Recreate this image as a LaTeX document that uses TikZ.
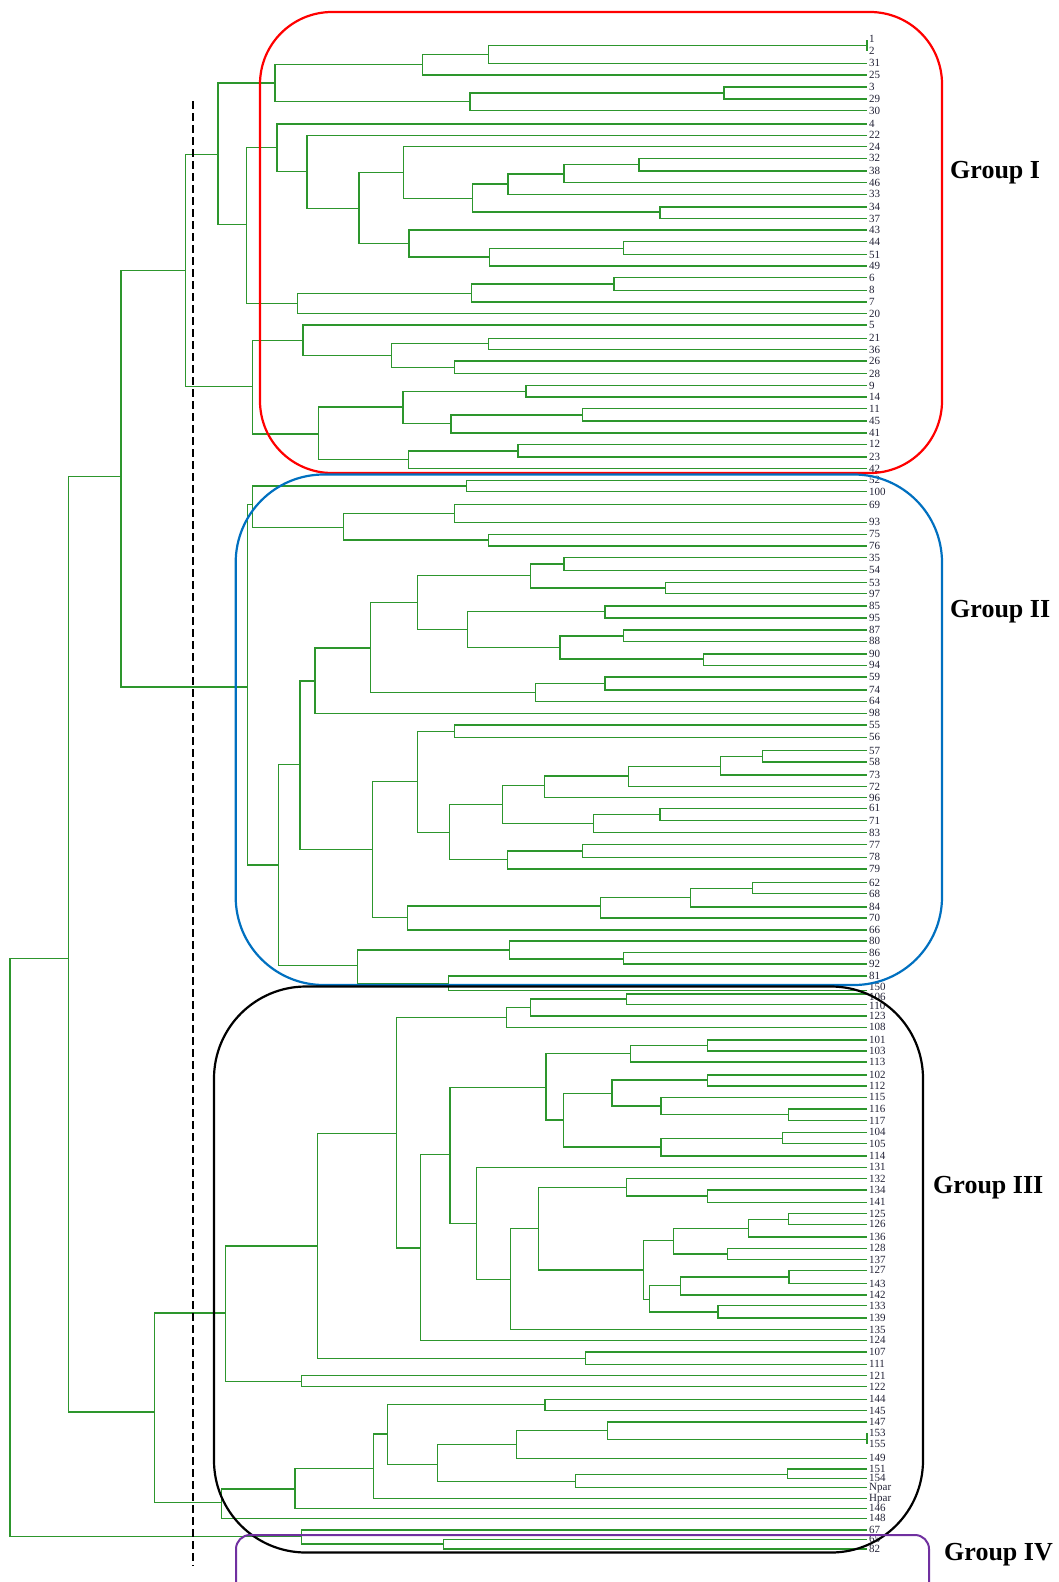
\documentclass[tikz,border=0pt]{standalone}
\usepackage{fontspec}
\setmainfont{Liberation Serif}
\definecolor{treegreen}{RGB}{45,150,45}
\definecolor{labgray}{RGB}{35,35,55}
\definecolor{boxblue}{RGB}{0,112,192}
\definecolor{boxpurple}{RGB}{112,48,160}
\newcommand\br[5]{\draw[tree] (#1,#2) -- (#3,#2) -- (#3,#4) -- (#5,#4);}
\def\E{867}
\begin{document}
\begin{tikzpicture}[x=1pt,y=-1pt,
  tree/.style={treegreen,line width=1.5pt},
  lab/.style={anchor=west,inner sep=0pt,font=\fontsize{11}{11}\selectfont,text=labgray},
  grp/.style={anchor=west,inner sep=0pt,font=\fontsize{26}{26}\selectfont\bfseries},
  gbox/.style={line width=2.2pt}]
\useasboundingbox (0,0) rectangle (1059,1582);
\clip (0,0) rectangle (1059,1582);
\fill[white] (0,0) rectangle (1059,1582);
% ---------- Group I ----------
\br{\E}{40}{867}{51}{\E}
\br{867}{45.7}{488.6}{63.3}{\E}
\br{488.6}{54.5}{422.5}{75}{\E}
\br{\E}{87}{724}{99}{\E}
\br{724}{93}{470}{110.7}{\E}
\br{422.5}{64.7}{275}{101.7}{470}
\br{\E}{158.3}{639}{171}{\E}
\br{639}{164.7}{564}{182.7}{\E}
\br{564}{174}{508}{194.3}{\E}
\br{\E}{207}{660}{218.7}{\E}
\br{508}{184}{472.5}{212}{660}
\br{\E}{146.7}{403.6}{198.3}{472.5}
\br{\E}{241.7}{623.6}{254.5}{\E}
\br{623.6}{248.3}{489.6}{266}{\E}
\br{\E}{230}{409}{257}{489.6}
\br{403.6}{172.7}{359}{243.7}{409}
\br{\E}{135.3}{307}{208.3}{359}
\br{\E}{124}{276.8}{171.3}{307}
\br{\E}{277.7}{614}{290.3}{\E}
\br{614}{284}{471.4}{302}{\E}
\br{471.4}{293.3}{297.5}{313.7}{\E}
\br{276.8}{147.7}{246.4}{303.3}{297.5}
\br{275}{83}{217.9}{224.7}{246.4}
\br{\E}{338.3}{488.6}{349.7}{\E}
\br{\E}{361}{454.6}{373.7}{\E}
\br{488.6}{343.3}{391.4}{367.7}{454.6}
\br{\E}{325}{302.9}{355.7}{391.4}
\br{\E}{385.7}{526}{397}{\E}
\br{\E}{408.7}{582.5}{421}{\E}
\br{582.5}{415}{451}{433}{\E}
\br{526}{391.7}{402.9}{423.7}{451}
\br{\E}{444.3}{518}{457}{\E}
\br{518}{451}{408.6}{468.7}{\E}
\br{402.9}{407}{318.6}{459.7}{408.6}
\br{302.9}{340.7}{252.5}{434}{318.6}
\br{217.9}{154.7}{185.7}{386.7}{252.5}
% ---------- Group II ----------
\br{\E}{480.3}{466.7}{491.7}{\E}
\br{\E}{504.7}{454.7}{522.3}{\E}
\br{\E}{534.3}{488.7}{546}{\E}
\br{454.7}{513.5}{343.3}{540.2}{488.7}
\br{466.7}{486}{252.3}{527.7}{343.3}
\br{\E}{557.7}{564}{570.3}{\E}
\br{\E}{582.7}{665.7}{593.7}{\E}
\br{564}{564}{530.7}{588}{665.7}
\br{\E}{606}{605}{618}{\E}
\br{\E}{630}{623.3}{641.3}{\E}
\br{\E}{654}{703.7}{665.3}{\E}
\br{623.3}{636}{560}{659}{703.7}
\br{605}{611.7}{467.3}{647.7}{560}
\br{530.7}{575.7}{417.3}{629.7}{467.3}
\br{\E}{677}{605}{690}{\E}
\br{605}{683.7}{535.7}{701.3}{\E}
\br{417.3}{602.3}{370.3}{692.3}{535.7}
\br{370.3}{648}{315}{713.3}{\E}
\br{\E}{725}{454.7}{737.3}{\E}
\br{\E}{750.7}{762.7}{762}{\E}
\br{762.7}{756.5}{720.7}{775}{\E}
\br{720.7}{766.7}{628.5}{786.7}{\E}
\br{628.5}{776}{544.3}{797.7}{\E}
\br{\E}{808.3}{660}{820.7}{\E}
\br{660}{814.7}{593.3}{832.7}{\E}
\br{544.3}{785.3}{502.7}{823.3}{593.3}
\br{\E}{844.7}{582.7}{857.3}{\E}
\br{582.7}{851}{507.3}{869}{\E}
\br{502.7}{804.7}{449.7}{859.3}{507.3}
\br{454.7}{731.3}{417.3}{832.3}{449.7}
\br{\E}{882.7}{752.7}{893.7}{\E}
\br{752.7}{888.7}{690.3}{907}{\E}
\br{690.3}{897.7}{600.5}{918}{\E}
\br{600.5}{906}{407.3}{930}{\E}
\br{417.3}{781.3}{372.3}{917.7}{407.3}
\br{315}{681}{300}{849.3}{372.3}
\br{\E}{952.7}{623.7}{964}{\E}
\br{\E}{941}{509.3}{959}{623.7}
\br{\E}{976}{448.7}{990.5}{\E}
\br{509.3}{950}{357.7}{983.5}{448.7}
\br{300}{764.7}{278.7}{965.3}{357.7}
\br{252.3}{504.7}{247.3}{865}{278.7}
\br{185.7}{270.7}{121}{687}{247.3}
% ---------- Group III ----------
\br{\E}{994}{626.7}{1004.3}{\E}
\br{626.7}{999}{530.7}{1016}{\E}
\br{530.7}{1007.5}{506.7}{1027.3}{\E}
\br{\E}{1040}{707.3}{1051}{\E}
\br{707.3}{1045.5}{630.7}{1062}{\E}
\br{\E}{1075}{707.3}{1086}{\E}
\br{\E}{1109}{788.7}{1120.7}{\E}
\br{\E}{1097.3}{661}{1114.3}{788.7}
\br{707.3}{1080}{612}{1106}{661}
\br{\E}{1132.3}{782.7}{1143.7}{\E}
\br{782.7}{1138.3}{661}{1156}{\E}
\br{612}{1093.7}{563.7}{1147}{661}
\br{630.7}{1053.7}{546}{1120}{563.7}
\br{\E}{1190}{707.3}{1202.3}{\E}
\br{\E}{1178.7}{626.7}{1196}{707.3}
\br{\E}{1213.7}{788.7}{1224.3}{\E}
\br{788.7}{1219.5}{748.3}{1237}{\E}
\br{\E}{1248.3}{727.7}{1259.7}{\E}
\br{748.3}{1228.3}{673.3}{1254}{727.7}
\br{\E}{1270.3}{789}{1283.7}{\E}
\br{789}{1277}{680.7}{1295}{\E}
\br{\E}{1305.7}{718}{1318}{\E}
\br{680.7}{1285.7}{649.3}{1312}{718}
\br{673.3}{1240.7}{643.3}{1299.3}{649.3}
\br{626.7}{1187.3}{538.3}{1270}{643.3}
\br{538.3}{1228.3}{510.7}{1329.7}{\E}
\br{\E}{1167.3}{476.7}{1279.7}{510.7}
\br{546}{1087.3}{450}{1223.3}{476.7}
\br{450}{1154.7}{420.7}{1340.3}{\E}
\br{506.7}{1017.5}{396.7}{1248}{420.7}
\br{\E}{1352}{585.3}{1364.3}{\E}
\br{396.7}{1133.7}{317.3}{1358.3}{585.3}
\br{\E}{1375.7}{301.7}{1386.7}{\E}
\br{317.3}{1246}{225.3}{1381.5}{301.7}
\br{\E}{1399.3}{545}{1410.7}{\E}
\br{\E}{1433}{867}{1444}{\E}
\br{\E}{1422}{607.7}{1439.3}{867}
\br{607.7}{1430.7}{516.3}{1458.3}{\E}
\br{\E}{1469}{787.3}{1478.3}{\E}
\br{787.3}{1474.3}{575.3}{1487.7}{\E}
\br{516.3}{1444.7}{437.7}{1481.3}{575.3}
\br{545}{1404.3}{387.3}{1464.3}{437.7}
\br{387.3}{1434}{373.3}{1498.7}{\E}
\br{373.3}{1468.7}{295}{1508.3}{\E}
\br{295}{1489}{221.7}{1518.3}{\E}
\br{225.3}{1313}{154.3}{1502.7}{221.7}
\br{121}{476.4}{68.6}{1412}{154.3}
% ---------- Group IV and root ----------
\br{\E}{1539.3}{443.3}{1549}{\E}
\br{\E}{1530}{301.7}{1544}{443.3}
\br{68.6}{958.6}{10}{1536.7}{301.7}
% ---------- leaf labels ----------
\foreach \t/\y [count=\i] in {1/39,2/51,31/63.3,25/75,3/87,29/99,30/110.7,4/124,22/135.3,24/146.7,32/158.3,38/171,46/182.7,33/194.3,34/207,37/218.7,43/230,44/241.7,51/254.5,49/266,6/277.7,8/290.3,7/302,20/313.7,5/325,21/338.3,36/349.7,26/361,28/373.7,9/385.7,14/397,11/408.7,45/421,41/433,12/444.3,23/457,42/468.7,
52/480.3,100/491.7,69/504.7,93/522.3,75/534.3,76/546,35/557.7,54/570.3,53/582.7,97/593.7,85/606,95/618,87/630,88/641.3,90/654,94/665.3,59/677,74/690,64/701.3,98/713.3,55/725,56/737.3,57/750.7,58/762,73/775,72/786.7,96/797.7,61/808.3,71/820.7,83/832.7,77/844.7,78/857.3,79/869,62/882.7,68/893.7,84/907,70/918,66/930,80/941,86/952.7,92/964,81/976,150/987.3,
106/996.5,110/1005.5,123/1016,108/1027.3,101/1040,103/1051,113/1062,102/1075,112/1086,115/1097.3,116/1109,117/1120.7,104/1132.3,105/1143.7,114/1156,131/1167.3,132/1178.7,134/1190,141/1202.3,125/1213.7,126/1224.3,136/1237,128/1248.3,137/1259.7,127/1270.3,143/1283.7,142/1295,133/1305.7,139/1318,135/1329.7,124/1340.3,107/1352,111/1364.3,121/1375.7,122/1386.7,144/1399.3,145/1410.7,147/1422,153/1433,155/1444,149/1458.3,151/1469,154/1478.3,Npar/1487.7,Hpar/1498.7,146/1508.3,148/1518.3,67/1530,65/1539.3,82/1549}
  \node[lab] (leaf\i) at (869,\y) {\t};
% ---------- cut line ----------
\draw[black,line width=2pt,dash pattern=on 8pt off 4pt] (193,101) -- (193,1566);
% ---------- group boxes ----------
\draw[gbox,red,rounded corners=72pt] (260,12) rectangle (942,473);
\draw[gbox,boxblue,rounded corners=88pt] (235.7,474.5) rectangle (942,985);
\draw[gbox,black,rounded corners=92pt] (214,986.5) rectangle (923,1552.5);
\draw[gbox,boxpurple,line width=2pt,rounded corners=14pt] (236,1600) -- (236,1535) -- (929,1535) -- (929,1600);
% ---------- group labels ----------
\node[grp] (gI) at (950,173) {Group I};
\node[grp] (gII) at (950,612) {Group II};
\node[grp] (gIII) at (933,1188) {Group III};
\node[grp] (gIV) at (944,1555) {Group IV};
\end{tikzpicture}
\end{document}
